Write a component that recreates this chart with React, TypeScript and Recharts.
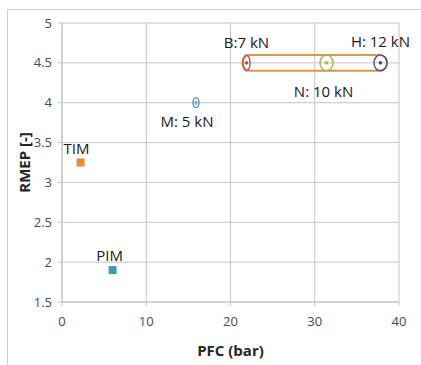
import { CartesianGrid, ReferenceArea, Scatter, ScatterChart, XAxis, YAxis } from "recharts";

const pointNames = ["TIM", "PIM", "M", "B", "N", "H"];
const pfcValues = [2.2, 6.0, 15.9, 21.9, 31.4, 37.8];
const rmepValues = [3.25, 1.9, 4.0, 4.5, 4.5, 4.5];
const pointLabels = ["TIM", "PIM", "M: 5 kN", "B:7 kN", "N: 10 kN", "H: 12 kN"];
const pointColors = ["#ee8a35", "#3f9bb2", "#4f81bd", "#c0504d", "#9bbb59", "#4b4b96"];

const xTicks = [0, 10, 20, 30, 40];
const yTicks = [1.5, 2, 2.5, 3, 3.5, 4, 4.5, 5];

// group of tests circled together (B, N, H)
const groupPfc = [21.4, 38.6];
const groupRmep = [4.4, 4.6];

const FONT = "'Open Sans', sans-serif";
const GRID = "#c4c4c4";

// label placement relative to the mark, per point
const labelOffset: Record<string, [number, number]> = {
  TIM: [-4, -9],
  PIM: [-3, -9],
  M: [-9, 24],
  B: [0, -15],
  N: [-3, 34],
  H: [0, -16]
};

function PointMark(props: any) {
  const { cx, cy, payload } = props;
  const name = payload.name as string;
  const color = payload.color as string;
  const [dx, dy] = labelOffset[name];
  let mark;
  if (name === "TIM" || name === "PIM") {
    mark = <rect x={cx - 4} y={cy - 4} width={8} height={8} fill={color} />;
  } else if (name === "M") {
    mark = (
      <g>
        <ellipse cx={cx} cy={cy} rx={3} ry={5} fill="none" stroke={color} strokeWidth={1.3} />
        <ellipse cx={cx} cy={cy} rx={1.5} ry={2.5} fill={color} opacity={0.6} />
      </g>
    );
  } else {
    const rx = name === "B" ? 3.5 : 6.5;
    mark = (
      <g>
        <ellipse cx={cx} cy={cy} rx={rx} ry={8} fill="none" stroke={color} strokeWidth={1.4} />
        <circle cx={cx} cy={cy} r={1.8} fill={color} />
      </g>
    );
  }
  return (
    <g>
      {mark}
      <text x={cx + dx} y={cy + dy} textAnchor="middle" fontFamily={FONT} fontSize={15} fill="#1a1a1a">
        {payload.label}
      </text>
    </g>
  );
}

function Capsule(props: any) {
  const { x, y, width, height } = props;
  return (
    <rect x={x} y={y} width={width} height={height} rx={height / 2} ry={height / 2} fill="none" stroke="#e0954c" strokeWidth={2} />
  );
}

export default function App() {
  const points = pointNames.map((name, i) => ({
    name,
    x: pfcValues[i],
    y: rmepValues[i],
    label: pointLabels[i],
    color: pointColors[i]
  }));

  return (
    <div style={{ position: "absolute", left: 0, top: 0, width: 421, height: 365, overflow: "hidden", background: "#fff" }}>
      <div style={{ position: "absolute", left: 7, top: 9, width: 430, height: 380, border: "1px solid #cfcfcf" }} />
      <div style={{ position: "absolute", left: 0, top: 0 }}>
        <ScatterChart width={421} height={365} margin={{ top: 23, right: 22, bottom: 0, left: 0 }}>
          <CartesianGrid stroke={GRID} horizontalValues={yTicks} verticalValues={xTicks} />
          <XAxis
            type="number"
            dataKey="x"
            domain={[0, 40]}
            ticks={xTicks}
            height={63}
            stroke={GRID}
            tickSize={4}
            tickMargin={11}
            tick={{ fill: "#4a4a4a", fontSize: 13, fontFamily: FONT }}
            label={{ value: "PFC (bar)", position: "insideBottom", offset: 9, style: { fontFamily: FONT, fontSize: 15, fontWeight: 700, fill: "#262626" } }}
          />
          <YAxis
            type="number"
            dataKey="y"
            domain={[1.5, 5]}
            ticks={yTicks}
            width={62}
            stroke={GRID}
            tickSize={4}
            tickMargin={6}
            tick={{ fill: "#4a4a4a", fontSize: 13, fontFamily: FONT }}
            label={{ value: "RMEP [-]", angle: -90, position: "insideLeft", offset: 25, style: { textAnchor: "middle", fontFamily: FONT, fontSize: 15, fontWeight: 700, fill: "#262626" } }}
          />
          <ReferenceArea x1={groupPfc[0]} x2={groupPfc[1]} y1={groupRmep[0]} y2={groupRmep[1]} shape={Capsule} />
          {points.map((p) => (
            <Scatter key={p.name} data={[p]} shape={PointMark} isAnimationActive={false} />
          ))}
        </ScatterChart>
      </div>
    </div>
  );
}
